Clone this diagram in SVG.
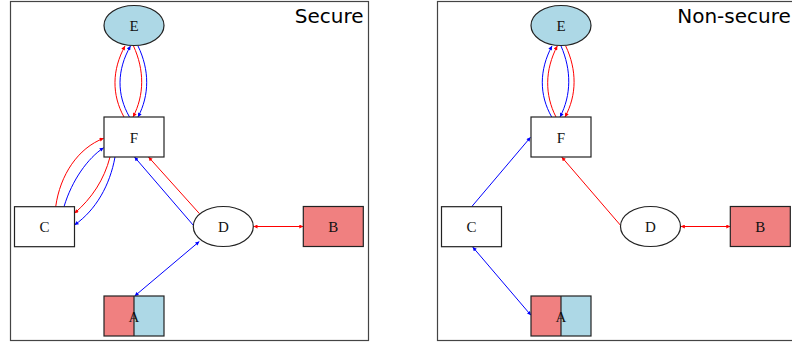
<svg xmlns="http://www.w3.org/2000/svg" width="792" height="343" viewBox="0 0 792 343">
  <style>
    .frame { fill: #ffffff; stroke: #444444; stroke-width: 1.2; }
    .title { font-family: "DejaVu Sans", sans-serif; font-size: 20px; fill: #000000; text-anchor: end; }
    .node { stroke: #222222; stroke-width: 1.2; }
    .plain { fill: #ffffff; }
    .blue { fill: #add8e6; }
    .coral { fill: #f08080; }
    .label { font-family: "Liberation Serif", "Times New Roman", serif; font-size: 15px; fill: #111111; text-anchor: middle; }
    .r { fill: none; stroke: #ff0000; stroke-width: 1; marker-end: url(#ar); }
    .b { fill: none; stroke: #0000ff; stroke-width: 1; marker-end: url(#ab); }
    .r2 { marker-start: url(#ar); }
    .b2 { marker-start: url(#ab); }
  </style>
  <defs>
    <marker id="ar" viewBox="0 0 10 10" refX="10" refY="5" markerWidth="5" markerHeight="4" markerUnits="userSpaceOnUse" orient="auto-start-reverse">
      <path d="M0,0 L10,5 L0,10 Z" fill="#ff0000"/>
    </marker>
    <marker id="ab" viewBox="0 0 10 10" refX="10" refY="5" markerWidth="5" markerHeight="4" markerUnits="userSpaceOnUse" orient="auto-start-reverse">
      <path d="M0,0 L10,5 L0,10 Z" fill="#0000ff"/>
    </marker>
  </defs>

  <!-- panel frames -->
  <rect class="frame" x="10.5" y="1.5" width="358" height="339"/>
  <rect class="frame" x="437.5" y="1.5" width="358" height="339"/>
  <text class="title" x="363.5" y="23.3">Secure</text>
  <text class="title" x="790.8" y="23.3">Non-secure</text>

  <!-- connectors -->
  <g id="connectors">
    <!-- secure panel -->
    <path class="r" d="M124,117 C111.8,95 111.8,70 125,46"/>
    <path class="b" d="M129.5,117 C116.7,95 116.7,70 130.5,46"/>
    <path class="r" d="M133.5,46 C144.5,70 144.5,95 133,117"/>
    <path class="b" d="M138,46 C149.6,70 149.6,95 138,117"/>
    <path class="r" d="M55.7,206.7 C60,175 78,148 103.7,138.3"/>
    <path class="b" d="M64,206.7 C72,180 88,158 103.7,147.7"/>
    <path class="r" d="M110,157 C104,180 92,198 74.5,213.3"/>
    <path class="b" d="M115,157 C110,185 96,210 74.5,225"/>
    <path class="b" d="M193.5,225.5 L134.5,157"/>
    <path class="r" d="M199.5,213.7 L148.5,157"/>
    <path class="r r2" d="M253.5,226.5 L303.3,226.5"/>
    <path class="b b2" d="M134.7,296 L199.3,241.5"/>
    <!-- non-secure panel -->
    <path class="b" d="M551.7,117 C539.1,95 539.1,70 552,46"/>
    <path class="r" d="M556,117 C544.7,95 544.7,70 557.3,46"/>
    <path class="b" d="M561,46 C571.5,70 571.5,95 560,117"/>
    <path class="r" d="M565.7,46 C577,70 577,95 565,117"/>
    <path class="b" d="M471.7,206.7 L530.5,137.3"/>
    <path class="r" d="M620.5,225.3 L561.7,157"/>
    <path class="r r2" d="M680.8,226.5 L730.3,226.5"/>
    <path class="b b2" d="M472.7,247 L531,315.3"/>
  </g>

  <!-- secure panel nodes -->
  <g id="secure-E">
    <ellipse class="node blue" cx="134" cy="25.5" rx="30" ry="20"/>
    <text class="label" x="134" y="31">E</text>
  </g>
  <g id="secure-F">
    <rect class="node plain" x="104" y="117" width="60" height="40"/>
    <text class="label" x="134" y="142.5">F</text>
  </g>
  <g id="secure-C">
    <rect class="node plain" x="14.5" y="206.7" width="60" height="40"/>
    <text class="label" x="44.5" y="232">C</text>
  </g>
  <g id="secure-D">
    <ellipse class="node plain" cx="223.3" cy="226.5" rx="30" ry="20"/>
    <text class="label" x="223.3" y="232">D</text>
  </g>
  <g id="secure-B">
    <rect class="node coral" x="303.3" y="206.5" width="60" height="40"/>
    <text class="label" x="333.3" y="232">B</text>
  </g>
  <g id="secure-A">
    <rect class="coral" x="104" y="296" width="30" height="40"/>
    <rect class="blue" x="134" y="296" width="30" height="40"/>
    <rect class="node" fill="none" x="104" y="296" width="60" height="40"/>
    <line class="node" x1="134" y1="296" x2="134" y2="336"/>
    <text class="label" x="134" y="322">A</text>
  </g>

  <!-- non-secure panel nodes -->
  <g id="nonsecure-E">
    <ellipse class="node blue" cx="561" cy="25.5" rx="30" ry="20"/>
    <text class="label" x="561" y="31">E</text>
  </g>
  <g id="nonsecure-F">
    <rect class="node plain" x="531" y="117" width="60" height="40"/>
    <text class="label" x="561" y="142.5">F</text>
  </g>
  <g id="nonsecure-C">
    <rect class="node plain" x="441.5" y="206.7" width="60" height="40"/>
    <text class="label" x="471.5" y="232">C</text>
  </g>
  <g id="nonsecure-D">
    <ellipse class="node plain" cx="650.5" cy="226.5" rx="30" ry="20"/>
    <text class="label" x="650.5" y="232">D</text>
  </g>
  <g id="nonsecure-B">
    <rect class="node coral" x="730.3" y="206.5" width="60" height="40"/>
    <text class="label" x="760.3" y="232">B</text>
  </g>
  <g id="nonsecure-A">
    <rect class="coral" x="531" y="296" width="30" height="40"/>
    <rect class="blue" x="561" y="296" width="30" height="40"/>
    <rect class="node" fill="none" x="531" y="296" width="60" height="40"/>
    <line class="node" x1="561" y1="296" x2="561" y2="336"/>
    <text class="label" x="561" y="322">A</text>
  </g>
</svg>
